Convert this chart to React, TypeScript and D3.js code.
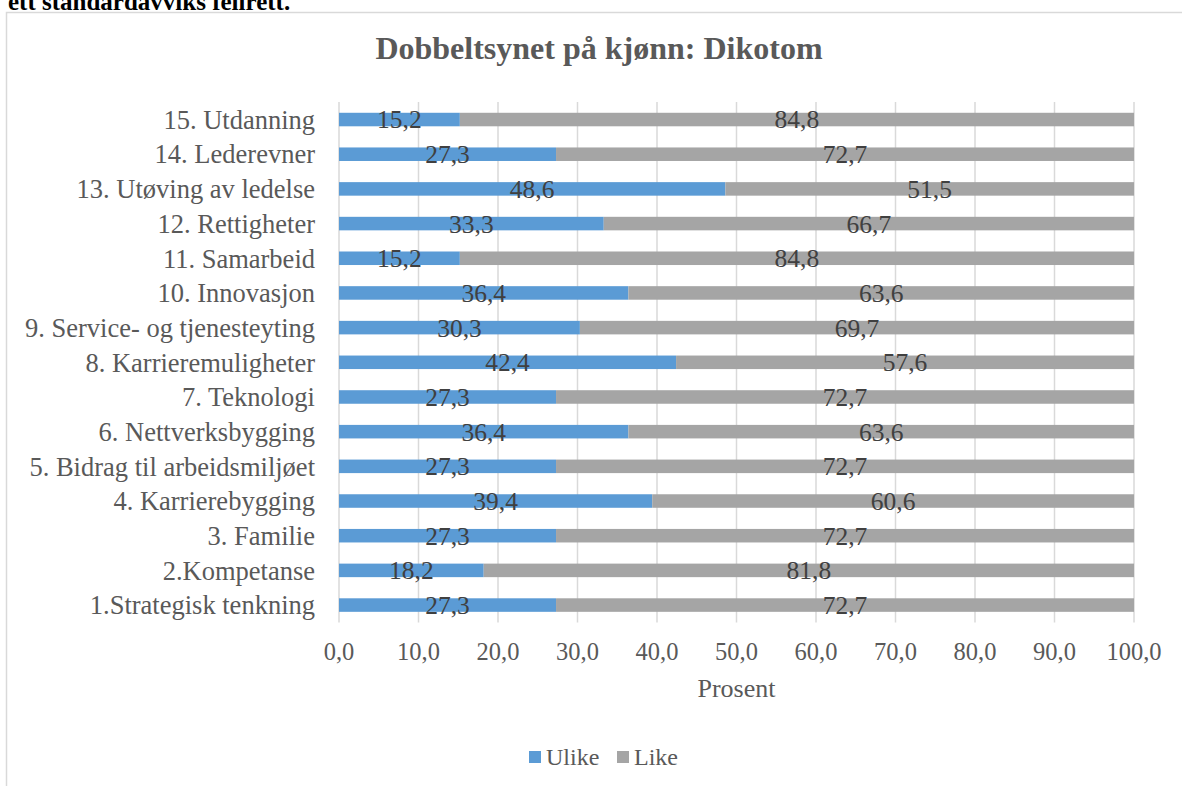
import React from "react";
import * as d3 from "d3";

const categories = [
  "15. Utdanning",
  "14. Lederevner",
  "13. Utøving av ledelse",
  "12. Rettigheter",
  "11. Samarbeid",
  "10. Innovasjon",
  "9. Service- og tjenesteyting",
  "8. Karrieremuligheter",
  "7. Teknologi",
  "6. Nettverksbygging",
  "5. Bidrag til arbeidsmiljøet",
  "4. Karrierebygging",
  "3. Familie",
  "2.Kompetanse",
  "1.Strategisk tenkning",
];
const ulike = [15.2, 27.3, 48.6, 33.3, 15.2, 36.4, 30.3, 42.4, 27.3, 36.4, 27.3, 39.4, 27.3, 18.2, 27.3];
const like = [84.8, 72.7, 51.5, 66.7, 84.8, 63.6, 69.7, 57.6, 72.7, 63.6, 72.7, 60.6, 72.7, 81.8, 72.7];
const xTicks = [0, 10, 20, 30, 40, 50, 60, 70, 80, 90, 100];
const seriesNames = ["Ulike", "Like"];
const seriesColors = ["#5B9BD5", "#A5A5A5"];

const W = 1182;
const H = 786;
const FONT = "'Liberation Serif', 'Times New Roman', serif";

export default function App() {
  const x = d3.scaleLinear().domain([0, 100]).range([339, 1134]);
  const y = d3.scaleBand<string>().domain(categories).range([102.2, 622.4]).paddingInner(0.61).paddingOuter(0.305);
  const fmt = (v: number) => v.toFixed(1).replace(".", ",");
  const bh = y.bandwidth();

  return (
    <svg
      width={W}
      height={H}
      style={{ position: "absolute", left: 0, top: 0, background: "#fff" }}
      fontFamily={FONT}
    >
      <text x={8} y={10} fontSize={25} fontWeight="bold" fill="#000">
        ett standardavviks feilrett.
      </text>
      <path d={`M6.5,${H} V12.5 H${W}`} fill="none" stroke="#D9D9D9" strokeWidth={1.5} />
      <text x={599} y={59} textAnchor="middle" fontSize={32} fontWeight="bold" fill="#595959">
        Dobbeltsynet på kjønn: Dikotom
      </text>
      {xTicks.map((t) => (
        <line key={"g" + t} x1={x(t)} x2={x(t)} y1={102} y2={622.5} stroke="#D9D9D9" strokeWidth={1.5} />
      ))}
      {categories.map((c, i) => {
        const y0 = y(c)!;
        const u = ulike[i];
        const l = Math.min(like[i], 100 - u);
        return (
          <g key={c}>
            <rect x={x(0)} y={y0} width={x(u) - x(0)} height={bh} fill={seriesColors[0]} />
            <rect x={x(u)} y={y0} width={x(u + l) - x(u)} height={bh} fill={seriesColors[1]} />
            <text x={315} y={y0 + bh / 2} dy="0.35em" textAnchor="end" fontSize={26.5} fill="#595959">
              {c}
            </text>
            <text x={(x(0) + x(u)) / 2} y={y0 + bh / 2} dy="0.35em" textAnchor="middle" fontSize={25.5} fill="#404040">
              {fmt(u)}
            </text>
            <text x={(x(u) + x(u + l)) / 2} y={y0 + bh / 2} dy="0.35em" textAnchor="middle" fontSize={25.5} fill="#404040">
              {fmt(like[i])}
            </text>
          </g>
        );
      })}
      {xTicks.map((t) => (
        <text key={"t" + t} x={x(t)} y={660} textAnchor="middle" fontSize={24.5} fill="#595959">
          {fmt(t)}
        </text>
      ))}
      <text x={736.5} y={697} textAnchor="middle" fontSize={26} fill="#595959">
        Prosent
      </text>
      <g>
        <rect x={529} y={751} width={12} height={12} fill={seriesColors[0]} />
        <text x={546} y={765} fontSize={24} fill="#595959">{seriesNames[0]}</text>
        <rect x={617} y={751} width={12} height={12} fill={seriesColors[1]} />
        <text x={634} y={765} fontSize={24} fill="#595959">{seriesNames[1]}</text>
      </g>
    </svg>
  );
}
